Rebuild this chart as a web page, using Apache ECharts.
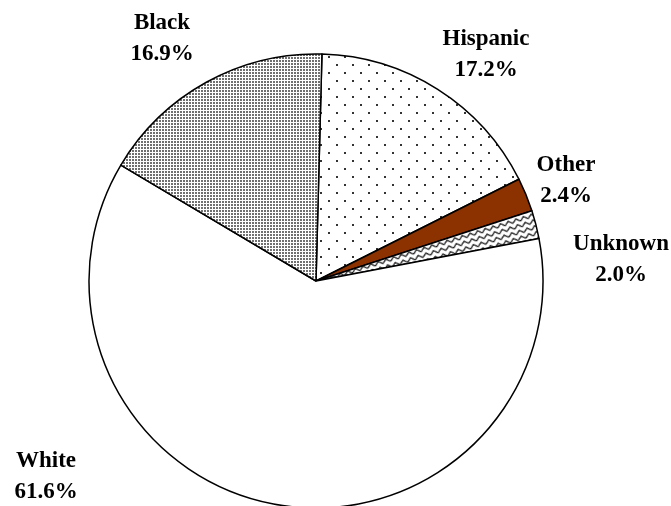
<!DOCTYPE html>
<html>
<head>
<meta charset="utf-8">
<script src="https://cdn.jsdelivr.net/npm/echarts@6/dist/echarts.min.js"></script>
<style>
html,body{margin:0;padding:0;background:#fff;}
#c{width:671px;height:506px;}
</style>
</head>
<body>
<div id="c"></div>
<script>
// Data (clockwise from 12 o'clock)
const categories = ['Hispanic', 'Other', 'Unknown', 'White', 'Black'];
const percents = [17.2, 2.4, 2.0, 61.6, 16.9];

// Label anchor positions (layout only)
const labelPos = [[486, 55], [566, 181], [621, 260], [46, 477], [162, 39]];

function makePattern(w, h, draw) {
  const cv = document.createElement('canvas');
  cv.width = w; cv.height = h;
  const ctx = cv.getContext('2d');
  ctx.fillStyle = '#fff';
  ctx.fillRect(0, 0, w, h);
  draw(ctx);
  return cv;
}
const sparseDots = makePattern(16, 16, ctx => {
  ctx.fillStyle = '#333';
  ctx.fillRect(0, 0, 2, 2);
  ctx.fillRect(8, 8, 2, 2);
});
const denseDots = makePattern(3, 3, ctx => {
  ctx.fillStyle = '#707070';
  ctx.fillRect(0, 0, 2, 2);
});
const zigzag = makePattern(8, 6, ctx => {
  ctx.strokeStyle = '#111';
  ctx.lineWidth = 1.3;
  ctx.beginPath();
  ctx.moveTo(0, 5); ctx.lineTo(4, 1.5); ctx.lineTo(8, 5);
  ctx.stroke();
});

const fills = [
  { image: sparseDots, repeat: 'repeat' },
  '#8c3100',
  { image: zigzag, repeat: 'repeat', rotation: -0.3 },
  '#ffffff',
  { image: denseDots, repeat: 'repeat' }
];

const chart = echarts.init(document.getElementById('c'), null, { renderer: 'canvas' });
chart.setOption({
  animation: false,
  backgroundColor: '#fff',
  series: [{
    type: 'pie',
    center: [316, 281],
    radius: 227,
    startAngle: 88.5,
    clockwise: true,
    silent: true,
    data: categories.map((n, i) => ({
      name: n,
      value: percents[i],
      itemStyle: { color: fills[i] }
    })),
    itemStyle: { borderColor: '#000', borderWidth: 1.5 },
    label: {
      show: true,
      position: 'outside',
      overflow: 'none',
      edgeDistance: 0,
      formatter: p => p.name + '\n' + p.value.toFixed(1) + '%',
      fontFamily: '"Liberation Serif", "DejaVu Serif", serif',
      fontWeight: 'bold',
      fontSize: 23,
      lineHeight: 31,
      color: '#000',
      align: 'center'
    },
    labelLine: { show: false },
    labelLayout: params => {
      const p = labelPos[params.dataIndex];
      return { x: p[0], y: p[1], align: 'center', verticalAlign: 'middle', hideOverlap: false, moveOverlap: false };
    }
  }]
});
</script>
</body>
</html>
